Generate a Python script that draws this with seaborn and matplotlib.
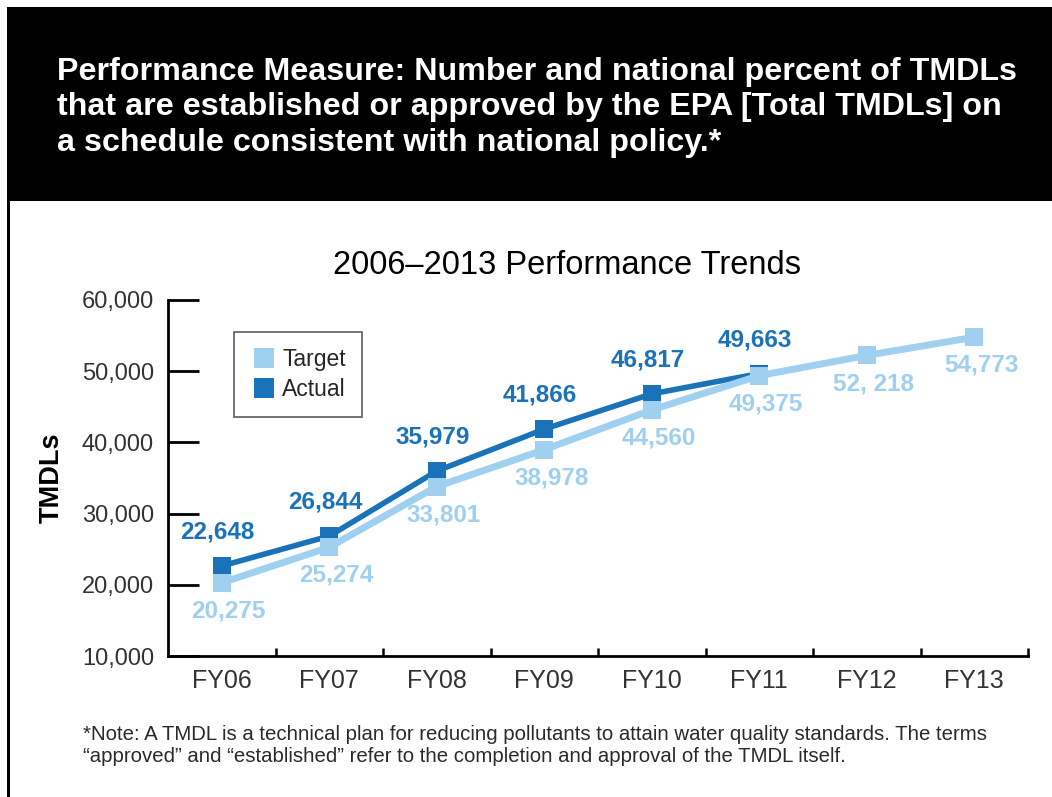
import numpy as np
import pandas as pd
import matplotlib
matplotlib.use("Agg")
import matplotlib.pyplot as plt
from matplotlib.lines import Line2D
from matplotlib.patches import Rectangle
import seaborn as sns

# Data
years = ["FY06", "FY07", "FY08", "FY09", "FY10", "FY11", "FY12", "FY13"]
target = [20275, 25274, 33801, 38978, 44560, 49375, 52218, 54773]
actual = [22648, 26844, 35979, 41866, 46817, 49663]
target_labels = ["20,275", "25,274", "33,801", "38,978", "44,560", "49,375", "52, 218", "54,773"]
actual_labels = ["22,648", "26,844", "35,979", "41,866", "46,817", "49,663"]
yticks = [10000, 20000, 30000, 40000, 50000, 60000]

title_lines = ["Performance Measure: Number and national percent of TMDLs",
               "that are established or approved by the EPA [Total TMDLs] on",
               "a schedule consistent with national policy.*"]
note_lines = ["*Note: A TMDL is a technical plan for reducing pollutants to attain water quality standards. The terms",
              "\u201capproved\u201d and \u201cestablished\u201d refer to the completion and approval of the TMDL itself."]

light = "#9fd0f0"
dark = "#1a72b9"

sns.set_theme(style="white")
plt.rcParams["font.family"] = ["Liberation Sans", "DejaVu Sans"]

df = pd.concat([
    pd.DataFrame({"x": range(len(actual)), "value": actual, "series": "Actual"}),
    pd.DataFrame({"x": range(len(target)), "value": target, "series": "Target"}),
])

W, H = 1052, 797
fig = plt.figure(figsize=(W / 100, H / 100), dpi=100)

# black header band and left border
fig.patches.append(Rectangle((7 / W, 1 - 201 / H), 1, 194 / H,
                             transform=fig.transFigure, facecolor="black",
                             edgecolor="none", zorder=0))
fig.patches.append(Rectangle((7 / W, 0), 2.5 / W, 1 - 201 / H,
                             transform=fig.transFigure, facecolor="black",
                             edgecolor="none", zorder=0))
for line, yy in zip(title_lines, [72, 107, 143]):
    fig.text(57 / W, 1 - yy / H, line, color="white", fontsize=23.2,
             fontweight="bold", va="center", ha="left")
fig.text(567 / W, 1 - 265 / H, "2006\u20132013 Performance Trends",
         fontsize=23.5, ha="center", va="center", color="black")
for line, yy in zip(note_lines, [735, 757]):
    fig.text(83 / W, 1 - yy / H, line, fontsize=14.7, ha="left",
             va="center", color="#2a2a2a")

ax = fig.add_axes([168 / W, 1 - 656 / H, 860 / W, 356 / H])
ax.patch.set_alpha(0)

sns.lineplot(data=df[df.series == "Actual"], x="x", y="value", ax=ax,
             color=dark, lw=4, marker="s", markersize=13, markeredgewidth=0,
             legend=False)
sns.lineplot(data=df[df.series == "Target"], x="x", y="value", ax=ax,
             color=light, lw=5, marker="s", markersize=13, markeredgewidth=0,
             legend=False)

for i, (v, s) in enumerate(zip(actual, actual_labels)):
    ax.annotate(s, (i, v), xytext=(-3, 16), textcoords="offset points",
                ha="center", va="bottom", fontsize=17.5, fontweight="bold", color=dark)
for i, (v, s) in enumerate(zip(target, target_labels)):
    ax.annotate(s, (i, v), xytext=(5, -12), textcoords="offset points",
                ha="center", va="top", fontsize=17.5, fontweight="bold", color=light)

ax.set_xlim(-0.5, len(years) - 0.5)
ax.set_ylim(10000, 60000)
ax.set_xticks(range(len(years)))
ax.set_xticklabels(years)
ax.set_xticks(np.arange(0.5, len(years), 1), minor=True)
ax.set_yticks(yticks)
ax.set_yticklabels([f"{t:,}" for t in yticks])
ax.tick_params(axis="x", which="major", length=0, pad=9, labelsize=18, labelcolor="#333333")
ax.tick_params(axis="x", which="minor", direction="in", length=6, width=1.8, color="black", bottom=True)
ax.tick_params(axis="y", direction="in", length=22, width=2, color="black", left=True,
               pad=10, labelsize=17, labelcolor="#333333")
ax.set_xlabel("")
ax.set_ylabel("TMDLs", fontsize=19.5, fontweight="bold", labelpad=12, color="black")
sns.despine(ax=ax)
for sp in ["left", "bottom"]:
    ax.spines[sp].set_color("black")
    ax.spines[sp].set_linewidth(2)

handles = [Line2D([], [], ls="none", marker="s", markersize=15, color=light, markeredgewidth=0),
           Line2D([], [], ls="none", marker="s", markersize=15, color=dark, markeredgewidth=0)]
leg = ax.legend(handles, ["Target", "Actual"], loc="upper left",
                bbox_to_anchor=(66 / 860, 0.91), borderaxespad=0, fontsize=16.5,
                frameon=True, fancybox=False, edgecolor="#444444", handletextpad=0.2,
                borderpad=0.7, labelspacing=0.3, handlelength=1.2)
leg.get_frame().set_linewidth(1.3)

fig.savefig("out.png", dpi=100)
